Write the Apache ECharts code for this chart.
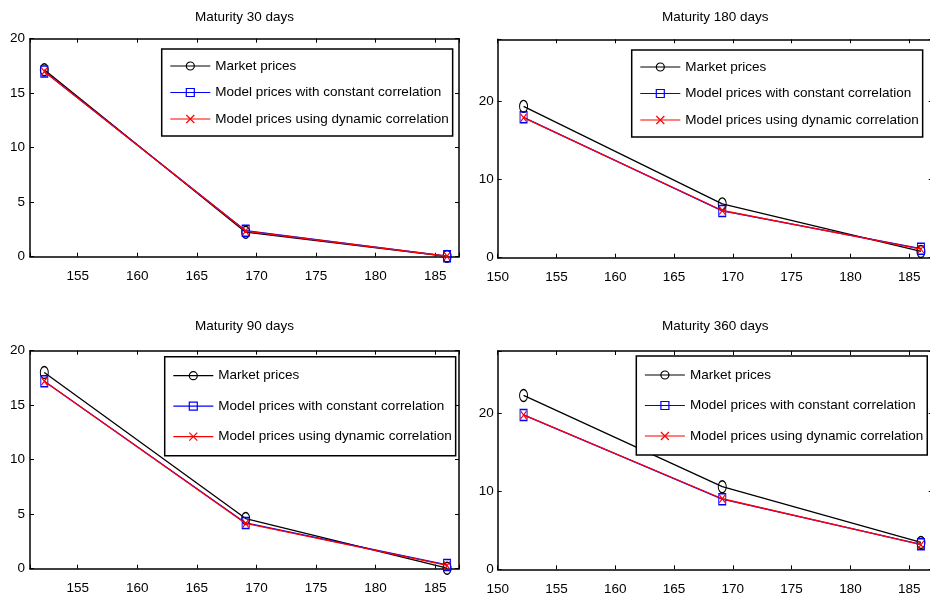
<!DOCTYPE html>
<html>
<head>
<meta charset="utf-8">
<script src="https://cdn.jsdelivr.net/npm/echarts@6/dist/echarts.min.js"></script>
<style>
html,body{margin:0;padding:0;background:#fff;overflow:hidden;}
#c{width:930px;height:600px;}
</style>
</head>
<body>
<div id="c"></div>
<script>
// ---- data ----
const strikes = [152.2, 169.1, 186.0];
const panelTitles = ['Maturity 30 days', 'Maturity 180 days', 'Maturity 90 days', 'Maturity 360 days'];
const seriesNames = ['Market prices', 'Model prices with constant correlation', 'Model prices using dynamic correlation'];

const market30 = [17.15, 2.25, 0.03];
const constant30 = [17.0, 2.38, 0.05];
const dynamic30 = [17.0, 2.35, 0.04];

const market180 = [19.4, 6.9, 0.8];
const constant180 = [18.0, 6.0, 1.15];
const dynamic180 = [17.95, 6.05, 1.1];

const market90 = [18.0, 4.6, 0.05];
const constant90 = [17.2, 4.2, 0.35];
const dynamic90 = [17.2, 4.15, 0.3];

const market360 = [22.3, 10.6, 3.45];
const constant360 = [19.8, 9.0, 3.2];
const dynamic360 = [19.8, 9.05, 3.15];

const yMaxes = [20, 28, 20, 28];
const yIntervals = [5, 10, 5, 10];
const xMins = [151, 150, 151, 150];
const xMax = 187;
const xInterval = 5;

// ---- layout ----
const FONT = "'Liberation Sans', Arial, sans-serif";
const FS = 13.5;
const grids = [
  {left: 30, top: 38.7, width: 429, height: 218},
  {left: 497.7, top: 39.3, width: 435, height: 218.4},
  {left: 30, top: 350.7, width: 429, height: 218},
  {left: 497.7, top: 351, width: 435, height: 218.3}
].map(g => Object.assign(g, {outerBoundsMode: 'none', containLabel: false}));
const titleCenterY = [17, 17, 326, 326];
const yLabelMargin = [5, 4, 5, 4];
const legendPos = [
  {left: 161.7, top: 49, gap: 12.5, pad: 10},
  {left: 631.7, top: 50, gap: 12.5, pad: 10},
  {left: 164.7, top: 356.7, gap: 16.5, pad: 12},
  {left: 636.3, top: 356, gap: 16.5, pad: 12}
];
const panelData = [
  [market30, constant30, dynamic30],
  [market180, constant180, dynamic180],
  [market90, constant90, dynamic90],
  [market360, constant360, dynamic360]
];

const styles = [
  {color: '#000000', symbol: 'circle', size: [8, 12]},
  {color: '#0000ff', symbol: 'rect', size: [7, 11]},
  {color: '#ff0000', symbol: 'path://M0,0L10,10M10,0L0,10', size: [6, 8]}
];

const xAxes = [], yAxes = [], series = [], titles = [], legends = [];
grids.forEach((g, i) => {
  const axisLine = {show: true, onZero: false, lineStyle: {color: '#000', width: 1.5}};
  const tick = {show: true, inside: true, length: 4, lineStyle: {color: '#000', width: 1}};
  const yInt = yIntervals[i];
  xAxes.push({
    type: 'value', gridIndex: i, min: xMins[i], max: xMax,
    splitNumber: 7, minInterval: xInterval, maxInterval: xInterval,
    axisLine, axisTick: tick, splitLine: {show: false},
    axisLabel: {color: '#000', fontFamily: FONT, fontSize: FS, margin: 13,
      formatter: v => (Math.abs(v % xInterval) < 1e-9 ? String(v) : '')}
  });
  xAxes.push({
    type: 'value', gridIndex: i, position: 'top', min: xMins[i], max: xMax,
    splitNumber: 7, minInterval: xInterval, maxInterval: xInterval,
    axisLine, axisTick: tick, splitLine: {show: false}, axisLabel: {show: false}
  });
  yAxes.push({
    type: 'value', gridIndex: i, min: 0, max: yMaxes[i], interval: yInt,
    axisLine, axisTick: tick, splitLine: {show: false},
    axisLabel: {color: '#000', fontFamily: FONT, fontSize: FS, margin: yLabelMargin[i],
      formatter: v => (Math.abs(v % yInt) < 1e-9 ? String(v) : '')}
  });
  yAxes.push({
    type: 'value', gridIndex: i, position: 'right', min: 0, max: yMaxes[i], interval: yInt,
    axisLine, axisTick: tick, splitLine: {show: false}, axisLabel: {show: false}
  });
  titles.push({
    text: panelTitles[i], left: g.left + g.width / 2, top: titleCenterY[i] - FS / 2, textAlign: 'center',
    padding: 0,
    textStyle: {color: '#000', fontFamily: FONT, fontSize: FS, fontWeight: 'normal'}
  });
  legends.push({
    data: seriesNames, orient: 'vertical', left: legendPos[i].left, top: legendPos[i].top,
    itemWidth: 40, itemHeight: 10, itemGap: legendPos[i].gap,
    padding: [legendPos[i].pad, 4, legendPos[i].pad, 8], borderColor: '#000', borderWidth: 1.5, backgroundColor: '#fff',
    selectedMode: false,
    lineStyle: {width: 1.2},
    itemStyle: {borderWidth: 1.2},
    textStyle: {color: '#000', fontFamily: FONT, fontSize: FS}
  });
  panelData[i].forEach((vals, k) => {
    series.push({
      name: seriesNames[k], type: 'line', xAxisIndex: 2 * i, yAxisIndex: 2 * i,
      data: strikes.map((x, j) => [x, vals[j]]),
      symbol: styles[k].symbol, symbolSize: styles[k].size, showSymbol: true,
      lineStyle: {color: styles[k].color, width: 1.3},
      itemStyle: {color: 'rgba(0,0,0,0)', borderColor: styles[k].color, borderWidth: 1.2},
      emphasis: {disabled: true}, silent: true, animation: false, z: 2 + k
    });
  });
});

const chart = echarts.init(document.getElementById('c'), null, {renderer: 'canvas'});
chart.setOption({
  backgroundColor: '#fff',
  animation: false,
  title: titles,
  legend: legends,
  grid: grids,
  xAxis: xAxes,
  yAxis: yAxes,
  series: series
});
</script>
</body>
</html>
